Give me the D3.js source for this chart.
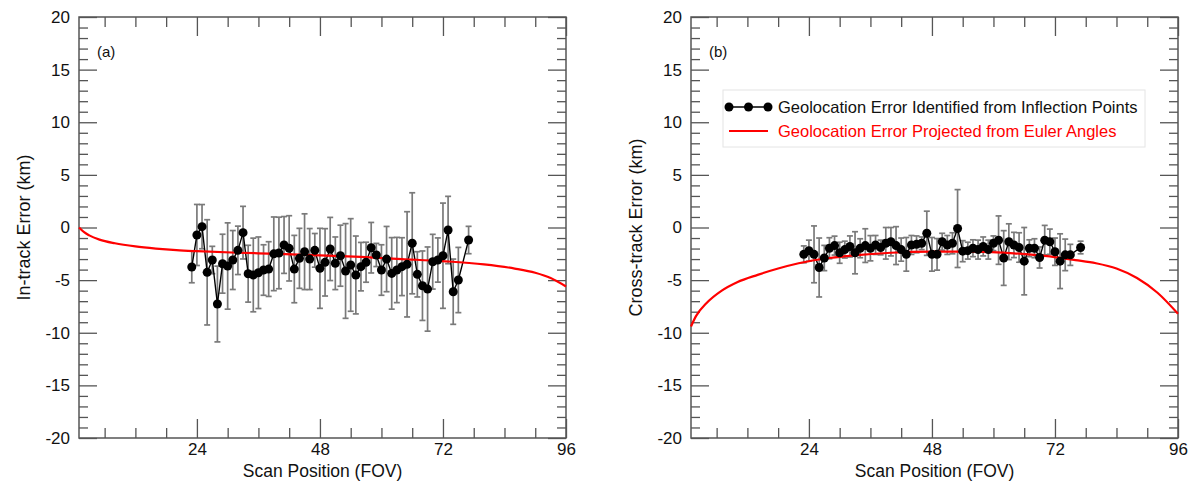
<!DOCTYPE html>
<html lang="en">
<head>
    <meta charset="UTF-8">
    <title>Geolocation Error vs Scan Position</title>
    <script src="https://d3js.org/d3.v7.min.js"></script>
    <style>
        body, html {
            margin: 0;
            padding: 0;
            background: #fff;
            font-family: 'Liberation Sans', Arial, sans-serif;
        }
        svg { display: block; }
    </style>
</head>
<body>
    <svg width="1188" height="484"></svg>

    <script>
        // scan positions (FOV) of the identified points, same for both panels
        const fov = [23, 24, 25, 26, 27, 28, 29, 30, 31, 32, 33, 34, 35, 36, 37, 38, 39, 40,
                     41, 42, 43, 44, 45, 46, 47, 48, 49, 50, 51, 52, 53, 54, 55, 56, 57, 58,
                     59, 60, 61, 62, 63, 64, 65, 66, 67, 68, 69, 70, 71, 72, 73, 74, 75, 77];

        // (a) in-track error, km
        const inTrack = [-3.75, -0.71, 0.08, -4.26, -3.09, -7.27, -3.44, -3.66, -3.09, -2.17, -0.49, -4.39,
                         -4.51, -4.30, -4.04, -3.95, -2.50, -2.42, -1.66, -1.98, -3.95, -2.93, -2.30, -3.00,
                         -2.17, -3.88, -3.31, -2.04, -3.40, -2.68, -4.13, -3.56, -4.51, -3.72, -3.30, -1.92,
                         -2.61, -4.04, -3.00, -4.36, -4.04, -3.72, -3.50, -1.50, -4.45, -5.53, -5.85, -3.25,
                         -3.09, -2.68, -0.24, -6.10, -4.99, -1.19];
        const inTrackErr = [1.5, 2.9, 2.1, 5.0, 1.3, 3.6, 2.8, 4.1, 2.8, 2.3, 2.5, 2.7,
                            3.5, 3.4, 2.4, 2.6, 3.5, 3.4, 2.7, 3.1, 3.2, 2.85, 3.6, 2.9,
                            1.6, 3.8, 3.2, 3.0, 2.5, 2.9, 4.5, 4.4, 3.7, 2.3, 1.9, 2.4,
                            1.1, 2.4, 3.1, 3.4, 3.1, 2.75, 5.0, 4.8, 2.15, 3.3, 4.0, 2.6,
                            2.1, 5.0, 3.2, 3.1, 3.1, 1.3];

        // (b) cross-track error, km
        const crossTrack = [-2.55, -2.20, -2.55, -3.80, -2.90, -1.97, -1.72, -2.40, -2.10, -1.80, -2.40, -1.97,
                            -1.72, -1.97, -1.66, -1.90, -1.50, -1.35, -1.72, -2.10, -2.55, -1.66, -1.60, -1.50,
                            -0.55, -2.55, -2.55, -1.35, -1.66, -1.50, -0.10, -2.25, -2.20, -1.97, -2.10, -1.80,
                            -2.10, -1.50, -1.20, -2.90, -1.35, -1.66, -1.90, -3.20, -1.97, -1.97, -2.85, -1.20,
                            -1.35, -2.30, -3.20, -2.60, -2.60, -1.90];
        const crossTrackErr = [0.8, 1.0, 2.7, 2.8, 1.2, 1.0, 0.9, 1.0, 0.8, 1.0, 2.0, 0.9,
                               1.6, 1.2, 0.9, 0.7, 1.5, 1.35, 1.8, 1.1, 1.6, 0.9, 0.8, 0.6,
                               2.1, 1.6, 1.5, 0.8, 0.9, 1.0, 3.7, 1.0, 0.8, 0.8, 0.9, 0.9,
                               0.9, 0.7, 2.3, 2.6, 1.7, 1.2, 1.4, 3.2, 0.8, 0.9, 1.0, 1.4,
                               1.2, 1.3, 2.6, 1.5, 1.0, 0.6];

        // projected error from Euler angles (red curves), sampled off the plot
        const eulerFovA = [1, 2, 3, 5, 8, 12, 16, 20, 24, 32, 40, 48, 56, 64, 72, 80, 86, 90, 93, 96];
        const eulerA    = [0, -0.45, -0.75, -1.15, -1.5, -1.8, -2.0, -2.15, -2.25, -2.4, -2.5, -2.65,
                           -2.8, -3.0, -3.2, -3.5, -3.9, -4.3, -4.8, -5.6];
        const eulerFovB = [1, 2, 4, 7, 10, 14, 18, 22, 28, 34, 40, 48, 56, 64, 70, 76, 80, 84, 88, 92, 96];
        const eulerB    = [-9.4, -8.4, -7.2, -6.0, -5.2, -4.5, -3.9, -3.4, -2.9, -2.6, -2.4, -2.3,
                           -2.3, -2.45, -2.7, -3.1, -3.4, -3.9, -4.8, -6.2, -8.2];

        const xMajor = [24, 48, 72, 96];
        const xMinor = [6, 12, 18, 30, 36, 42, 54, 60, 66, 78, 84, 90];
        const yMajor = [-20, -15, -10, -5, 0, 5, 10, 15, 20];
        const yMinor = d3.range(-19, 20).filter(v => v % 5 !== 0);

        const legendLabels = ['Geolocation Error Identified from Inflection Points',
                              'Geolocation Error Projected from Euler Angles'];

        const svg = d3.select('svg');
        const frameColor = '#555';

        function drawPanel(opts) {
            const left = opts.left, top = 17, w = 487, h = 421;
            const g = svg.append('g');

            const x = d3.scaleLinear().domain([1, 96]).range([left, left + w]);
            const y = d3.scaleLinear().domain([-20, 20]).range([top + h, top]);

            const fmt = d => String(d);
            const addAxis = (axis, tx, ty, cls) => {
                const a = g.append('g').attr('class', cls)
                    .attr('transform', `translate(${tx},${ty})`)
                    .call(axis);
                a.select('.domain').remove();
                a.selectAll('line').attr('stroke', frameColor).attr('stroke-width', 1.3);
                a.selectAll('text').attr('fill', '#111').style('font-size', '17px')
                    .style('font-family', "'Liberation Sans', Arial, sans-serif");
                return a;
            };

            // major / minor ticks on all four sides, pointing inward
            addAxis(d3.axisLeft(y).tickValues(yMajor).tickSize(-18).tickPadding(9).tickFormat(fmt), left, 0, 'yl');
            addAxis(d3.axisLeft(y).tickValues(yMinor).tickSize(-9).tickFormat(''), left, 0, 'ylm');
            addAxis(d3.axisRight(y).tickValues(yMajor).tickSize(-18).tickFormat(''), left + w, 0, 'yr');
            addAxis(d3.axisRight(y).tickValues(yMinor).tickSize(-9).tickFormat(''), left + w, 0, 'yrm');
            addAxis(d3.axisBottom(x).tickValues(xMajor).tickSize(-19).tickPadding(5).tickFormat(fmt), 0, top + h, 'xb');
            addAxis(d3.axisBottom(x).tickValues(xMinor).tickSize(-10).tickFormat(''), 0, top + h, 'xbm');
            addAxis(d3.axisTop(x).tickValues(xMajor).tickSize(-19).tickFormat(''), 0, top, 'xt');
            addAxis(d3.axisTop(x).tickValues(xMinor).tickSize(-10).tickFormat(''), 0, top, 'xtm');

            g.append('rect')
                .attr('x', left).attr('y', top).attr('width', w).attr('height', h)
                .attr('fill', 'none').attr('stroke', frameColor).attr('stroke-width', 1.5);

            // axis titles
            g.append('text')
                .attr('x', left + w / 2).attr('y', 477)
                .attr('text-anchor', 'middle')
                .style('font-size', '17.5px').attr('fill', '#111')
                .text('Scan Position (FOV)');
            g.append('text')
                .attr('transform', `translate(${opts.yTitleX},${top + h / 2}) rotate(-90)`)
                .attr('text-anchor', 'middle')
                .style('font-size', '18px').attr('fill', '#111')
                .text(opts.yTitle);

            g.append('text')
                .attr('x', left + 18).attr('y', 57)
                .style('font-size', '15px').attr('fill', '#111')
                .text(opts.tag);

            const pts = fov.map((f, i) => ({ f: f, v: opts.values[i], e: opts.errs[i] }));

            // error bars
            const bars = g.append('g').attr('stroke', '#7a7a7a').attr('stroke-width', 1.7);
            bars.selectAll('line.v').data(pts).join('line').attr('class', 'v')
                .attr('x1', d => x(d.f)).attr('x2', d => x(d.f))
                .attr('y1', d => y(d.v + d.e)).attr('y2', d => y(d.v - d.e));
            bars.selectAll('line.ct').data(pts).join('line').attr('class', 'ct')
                .attr('x1', d => x(d.f) - 3).attr('x2', d => x(d.f) + 3)
                .attr('y1', d => y(d.v + d.e)).attr('y2', d => y(d.v + d.e));
            bars.selectAll('line.cb').data(pts).join('line').attr('class', 'cb')
                .attr('x1', d => x(d.f) - 3).attr('x2', d => x(d.f) + 3)
                .attr('y1', d => y(d.v - d.e)).attr('y2', d => y(d.v - d.e));

            g.append('path').datum(pts)
                .attr('fill', 'none').attr('stroke', '#000').attr('stroke-width', 1.4)
                .attr('d', d3.line().x(d => x(d.f)).y(d => y(d.v)));

            const red = opts.eulerFov.map((f, i) => [f, opts.euler[i]]);
            g.append('path').datum(red)
                .attr('fill', 'none').attr('stroke', '#ff0000').attr('stroke-width', 2.2)
                .attr('d', d3.line().curve(d3.curveMonotoneX).x(d => x(d[0])).y(d => y(d[1])));

            g.selectAll('circle.pt').data(pts).join('circle').attr('class', 'pt')
                .attr('cx', d => x(d.f)).attr('cy', d => y(d.v)).attr('r', 4.5)
                .attr('fill', '#000');
        }

        drawPanel({ left: 79, tag: '(a)', yTitle: 'In-track Error (km)', yTitleX: 30,
                    values: inTrack, errs: inTrackErr, eulerFov: eulerFovA, euler: eulerA });
        drawPanel({ left: 691, tag: '(b)', yTitle: 'Cross-track Error (km)', yTitleX: 642,
                    values: crossTrack, errs: crossTrackErr, eulerFov: eulerFovB, euler: eulerB });

        // legend in panel (b)
        const lg = svg.append('g');
        lg.append('rect').attr('x', 723).attr('y', 90).attr('width', 422).attr('height', 57)
            .attr('fill', '#fff').attr('stroke', '#e4e4e4').attr('stroke-width', 1);
        const lx = d3.scaleLinear().domain([0, 2]).range([729, 768]);
        lg.append('line').attr('x1', lx(0)).attr('x2', lx(2)).attr('y1', 107).attr('y2', 107)
            .attr('stroke', '#000').attr('stroke-width', 1.4);
        lg.selectAll('circle').data([0, 1, 2]).join('circle')
            .attr('cx', d => lx(d)).attr('cy', 107).attr('r', 4.5).attr('fill', '#000');
        lg.append('line').attr('x1', 729).attr('x2', 768).attr('y1', 131).attr('y2', 131)
            .attr('stroke', '#ff0000').attr('stroke-width', 2.2);
        lg.selectAll('text').data(legendLabels).join('text')
            .attr('x', 778).attr('y', (d, i) => 113 + i * 24)
            .attr('fill', (d, i) => i === 0 ? '#111' : '#ff0000')
            .style('font-size', '16.5px')
            .text(d => d);
    </script>
</body>
</html>
